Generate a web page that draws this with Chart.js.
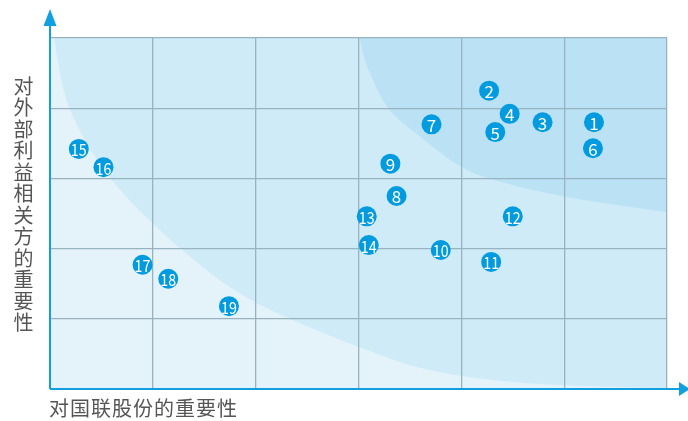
<!DOCTYPE html>
<html>
<head>
<meta charset="utf-8">
<script src="https://cdn.jsdelivr.net/npm/chart.js@4.4.1/dist/chart.umd.min.js"></script>
<style>
  html, body { margin: 0; padding: 0; background: #ffffff; }
  #wrap { position: relative; width: 688px; height: 421px; overflow: hidden; }
  #chart { position: absolute; left: 0; top: 0; }
  .axis-title {
    position: absolute;
    font-family: "Noto Sans CJK SC", "Noto Sans", sans-serif;
    font-size: 20px;
    color: #555555;
    letter-spacing: 1px;
    white-space: nowrap;
  }
  #ytitle { left: 12px; top: 76px; writing-mode: vertical-rl; text-orientation: upright; line-height: 22px; letter-spacing: 1.5px; }
  #xtitle { left: 49px; top: 396px; line-height: 24px; }
</style>
</head>
<body>
<div id="wrap">
  <canvas id="chart" width="688" height="421"></canvas>
  <div class="axis-title" id="ytitle">对外部利益相关方的重要性</div>
  <div class="axis-title" id="xtitle">对国联股份的重要性</div>
</div>
<script>
/* ------------------------------------------------------------
   Data: issue number, importance to company (x), to stakeholders (y)
------------------------------------------------------------ */
var ISSUE_LABELS = ['1','2','3','4','5','6','7','8','9','10','11','12','13','14','15','16','17','18','19'];
var X_VALUES = [5.29, 4.27, 4.79, 4.47, 4.33, 5.28, 3.71, 3.37, 3.31, 3.80, 4.29, 4.50, 3.08, 3.10, 0.28, 0.52, 0.90, 1.15, 1.74];
var Y_VALUES = [3.80, 4.25, 3.80, 3.92, 3.66, 3.43, 3.77, 2.75, 3.21, 1.98, 1.81, 2.46, 2.46, 2.05, 3.42, 3.16, 1.77, 1.57, 1.18];

var X_MAX = 6;
var Y_MAX = 5;

/* boundary curves of the shaded zones, in axis units */
var OUTER_CURVE_X = [0.04, 0.19, 0.59, 1.27, 1.99, 3.11, 3.79, 4.77, 6.00];
var OUTER_CURVE_Y = [5.00, 4.00, 3.00, 2.00, 1.24, 0.54, 0.24, 0.07, 0.01];
var INNER_CURVE_X = [3.01, 3.09, 3.29, 3.58, 3.97, 4.31, 5.01, 6.00];
var INNER_CURVE_Y = [5.00, 4.57, 4.00, 3.62, 3.19, 2.98, 2.74, 2.52];

var COLORS = {
  low:    '#e4f3fa',
  mid:    '#cfebf7',
  high:   '#bae2f4',
  grid:   '#98b3bf',
  axis:   '#129fdf',
  point:  '#039be0',
  label:  '#ffffff'
};

/* ------------------------------------------------------------
   Helpers
------------------------------------------------------------ */
function _curvePath(ctx, pts) {
  // Catmull-Rom through the points
  ctx.lineTo(pts[0].x, pts[0].y);
  for (var i = 0; i < pts.length - 1; i++) {
    var p0 = pts[i - 1] || pts[i];
    var p1 = pts[i];
    var p2 = pts[i + 1];
    var p3 = pts[i + 2] || p2;
    ctx.bezierCurveTo(
      p1.x + (p2.x - p0.x) / 6, p1.y + (p2.y - p0.y) / 6,
      p2.x - (p3.x - p1.x) / 6, p2.y - (p3.y - p1.y) / 6,
      p2.x, p2.y
    );
  }
}

function _toPixels(chart, xs, ys) {
  var sx = chart.scales.x, sy = chart.scales.y;
  return xs.map(function (v, i) {
    return { x: sx.getPixelForValue(v), y: sy.getPixelForValue(ys[i]) };
  });
}

/* zones painted under the grid */
var zonesPlugin = {
  id: 'zones',
  beforeDraw: function (chart) {
    var ctx = chart.ctx, a = chart.chartArea;
    ctx.save();
    ctx.beginPath();
    ctx.rect(a.left, a.top, a.right - a.left, a.bottom - a.top);
    ctx.clip();

    ctx.fillStyle = COLORS.low;
    ctx.fillRect(a.left, a.top, a.right - a.left, a.bottom - a.top);

    ctx.fillStyle = COLORS.mid;
    ctx.beginPath();
    ctx.moveTo(a.right, a.top);
    _curvePath(ctx, _toPixels(chart, OUTER_CURVE_X, OUTER_CURVE_Y));
    ctx.lineTo(a.right, a.bottom);
    ctx.closePath();
    ctx.fill();

    ctx.fillStyle = COLORS.high;
    ctx.beginPath();
    ctx.moveTo(a.right, a.top);
    _curvePath(ctx, _toPixels(chart, INNER_CURVE_X, INNER_CURVE_Y));
    ctx.closePath();
    ctx.fill();
    ctx.restore();
  }
};

/* blue axes with arrow heads */
var arrowsPlugin = {
  id: 'arrows',
  afterDraw: function (chart) {
    var ctx = chart.ctx, a = chart.chartArea;
    ctx.save();
    ctx.strokeStyle = COLORS.axis;
    ctx.fillStyle = COLORS.axis;
    ctx.lineWidth = 2;
    ctx.beginPath();
    ctx.moveTo(a.left, a.bottom);
    ctx.lineTo(a.left, 20);
    ctx.moveTo(a.left, a.bottom);
    ctx.lineTo(682, a.bottom);
    ctx.stroke();

    ctx.beginPath();
    ctx.moveTo(a.left, 9);
    ctx.lineTo(a.left - 6.5, 26);
    ctx.lineTo(a.left + 6.5, 26);
    ctx.closePath();
    ctx.fill();

    ctx.beginPath();
    ctx.moveTo(690, a.bottom);
    ctx.lineTo(679, a.bottom - 7);
    ctx.lineTo(679, a.bottom + 7);
    ctx.closePath();
    ctx.fill();
    ctx.restore();
  }
};

/* issue numbers inside the dots */
var numbersPlugin = {
  id: 'numbers',
  afterDatasetsDraw: function (chart) {
    var ctx = chart.ctx;
    var meta = chart.getDatasetMeta(0);
    ctx.save();
    ctx.fillStyle = COLORS.label;
    ctx.textAlign = 'center';
    ctx.textBaseline = 'middle';
    meta.data.forEach(function (pt, i) {
      var txt = ISSUE_LABELS[i];
      ctx.font = (txt.length > 1 ? '17px' : '17px') + ' "Noto Sans CJK SC", "Noto Sans", sans-serif';
      if (txt.length > 1) {
        ctx.save();
        ctx.translate(pt.x, pt.y + 1);
        ctx.scale(0.84, 1);
        ctx.fillText(txt, 0, 0);
        ctx.restore();
      } else {
        ctx.fillText(txt, pt.x, pt.y + 1);
      }
    });
    ctx.restore();
  }
};

/* ------------------------------------------------------------
   Chart
------------------------------------------------------------ */
var points = X_VALUES.map(function (v, i) { return { x: v, y: Y_VALUES[i] }; });

new Chart(document.getElementById('chart'), {
  type: 'scatter',
  data: {
    datasets: [{
      label: 'issues',
      data: points,
      backgroundColor: COLORS.point,
      borderWidth: 0,
      pointRadius: 10,
      pointHoverRadius: 10
    }]
  },
  options: {
    responsive: false,
    animation: false,
    layout: { padding: { left: 50, top: 38, right: 21, bottom: 32 } },
    plugins: {
      legend: { display: false },
      tooltip: { enabled: false }
    },
    scales: {
      x: {
        type: 'linear',
        min: 0, max: X_MAX,
        ticks: { stepSize: 1, display: false },
        grid: { color: COLORS.grid, lineWidth: 1.3, drawTicks: false },
        border: { display: false }
      },
      y: {
        type: 'linear',
        min: 0, max: Y_MAX,
        ticks: { stepSize: 1, display: false },
        grid: { color: COLORS.grid, lineWidth: 1.3, drawTicks: false },
        border: { display: false }
      }
    }
  },
  plugins: [zonesPlugin, arrowsPlugin, numbersPlugin]
});
</script>
</body>
</html>
